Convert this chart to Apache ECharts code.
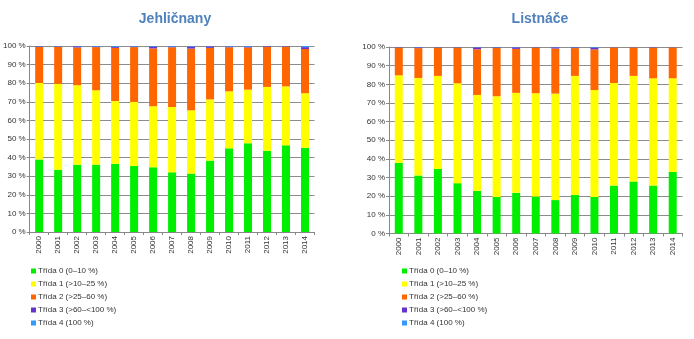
<!DOCTYPE html>
<html><head><meta charset="utf-8">
<script src="https://cdn.jsdelivr.net/npm/echarts@6/dist/echarts.min.js"></script>
<style>html,body{margin:0;padding:0;background:#fff}#c{width:694px;height:339px}</style>
</head><body><div id="c"></div>
<script>
const years = ['2000','2001','2002','2003','2004','2005','2006','2007','2008','2009','2010','2011','2012','2013','2014'];
const classNames = ['Třída 0 (0–10 %)','Třída 1 (>10–25 %)','Třída 2 (>25–60 %)','Třída 3 (>60–<100 %)','Třída 4 (100 %)'];
const classColors = ['#00EE00','#FFFF00','#FF6600','#6633CC','#3399FF'];
const yTicks = ['0 %','10 %','20 %','30 %','40 %','50 %','60 %','70 %','80 %','90 %','100 %'];

// Jehličnany (conifers)
const conTrida0 = [39.0,33.5,36.2,36.2,36.7,35.5,34.8,32.1,31.4,38.4,45.0,47.7,43.7,46.6,45.3];
const conTrida1 = [41.1,46.2,42.7,40.0,33.7,34.4,32.8,35.1,34.0,32.9,30.6,28.8,34.3,31.7,29.3];
const conTrida3 = [0.3,0.2,0.6,0.3,0.6,0.3,1.0,0.4,1.0,0.8,0.4,0.5,0.3,0.2,1.0];
const conTrida4 = [0.2,0.2,0.2,0.3,0.4,0.3,0.3,0.3,0.4,0.2,0.3,0.3,0.1,0.1,0.6];
const conTrida2 = [19.4,19.9,20.3,23.2,28.6,29.5,31.1,32.1,33.2,27.7,23.7,22.7,21.6,21.4,23.8];

// Listnáče (broadleaves)
const broTrida0 = [37.9,31.1,34.6,27.0,22.9,19.6,21.8,19.8,17.9,20.7,19.6,25.7,27.9,25.7,33.0];
const broTrida1 = [46.9,52.3,49.9,53.5,51.4,54.0,53.6,55.4,57.1,63.8,57.3,55.0,56.6,57.5,50.2];
const broTrida3 = [0.2,0.4,0.2,0.2,1.0,0.3,0.8,0.2,0.6,0.4,1.0,0.1,0.1,0.2,0.1];
const broTrida4 = [0.1,0.2,0.1,0.1,0.2,0.2,0.2,0.1,0.2,0.2,0.3,0.1,0.1,0.1,0.1];
const broTrida2 = [14.9,16.0,15.2,19.2,24.5,25.9,23.6,24.5,24.2,14.9,21.8,19.1,15.3,16.5,16.6];

const conData = [conTrida0, conTrida1, conTrida2, conTrida3, conTrida4];
const broData = [broTrida0, broTrida1, broTrida2, broTrida3, broTrida4];

const FONT = 'Liberation Sans, Arial, sans-serif';
function xAx(gi){
  return {type:'category', gridIndex:gi, data:years,
    axisLine:{lineStyle:{color:'#888',width:1}},
    axisTick:{show:true, length:3, lineStyle:{color:'#888'}},
    axisLabel:{rotate:90, fontSize:8, color:'#333', fontFamily:FONT, margin:4, interval:0}};
}
function yAx(gi){
  return {type:'value', gridIndex:gi, min:0, max:100, interval:10,
    axisLine:{show:true, lineStyle:{color:'#888',width:1}},
    axisTick:{show:true, length:3, lineStyle:{color:'#888'}},
    splitLine:{show:true, lineStyle:{color:'#8c8c8c',width:1}},
    axisLabel:{fontSize:8, color:'#333', fontFamily:FONT, margin:4,
      formatter:(v)=>yTicks[Math.round(v/10)]}};
}
const series = [];
[conData, broData].forEach((d, gi)=>{
  d.forEach((arr, k)=>{
    series.push({type:'bar', name:classNames[k], xAxisIndex:gi, yAxisIndex:gi,
      stack:'s'+gi, data:arr, barWidth:8, itemStyle:{color:classColors[k]},
      emphasis:{disabled:true}});
  });
});
function legend(left){
  return {orient:'vertical', left:left, top:261, itemWidth:5, itemHeight:5, itemGap:3,
    icon:'rect', data:classNames,
    textStyle:{fontSize:8, color:'#333', fontFamily:FONT, lineHeight:10, padding:[0,0,0,-3]}};
}
const option = {
  animation:false,
  backgroundColor:'#fff',
  title:[
    {text:'Jehličnany', left:170, top:7, textAlign:'center',
      textStyle:{fontSize:14, fontWeight:'bold', color:'#4F81BD', fontFamily:FONT}},
    {text:'Listnáče', left:535, top:7, textAlign:'center',
      textStyle:{fontSize:14, fontWeight:'bold', color:'#4F81BD', fontFamily:FONT}}
  ],
  grid:[
    {left:28.5, top:46, width:286, height:186},
    {left:389, top:47, width:293.5, height:186.5}
  ],
  xAxis:[xAx(0), xAx(1)],
  yAxis:[yAx(0), yAx(1)],
  legend:[legend(26), legend(397)],
  series:series
};
const chart = echarts.init(document.getElementById('c'), null, {renderer:'canvas'});
chart.setOption(option);
</script></body></html>
